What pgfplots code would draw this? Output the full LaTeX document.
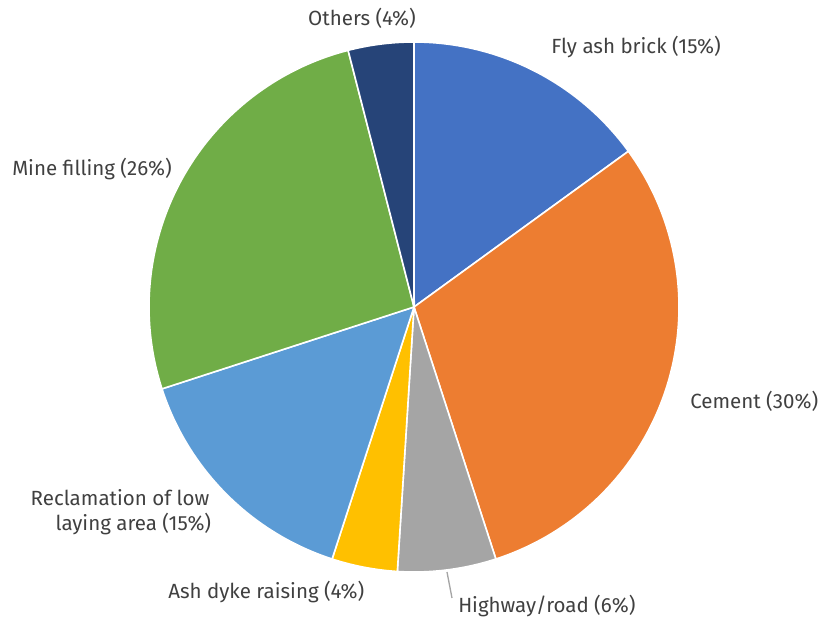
\documentclass[border=0pt]{standalone}
\usepackage{pgfplots}
\pgfplotsset{compat=1.18}
\usepackage{fontspec}
\setmainfont{Fira Sans}
\definecolor{c1}{HTML}{4472C4}
\definecolor{c2}{HTML}{ED7D31}
\definecolor{c3}{HTML}{A5A5A5}
\definecolor{c4}{HTML}{FFC000}
\definecolor{c5}{HTML}{5B9BD5}
\definecolor{c6}{HTML}{70AD47}
\definecolor{c7}{HTML}{264478}
\definecolor{txt}{HTML}{404040}
% shares (%)
\def\vA{15}\def\vB{30}\def\vC{6}\def\vD{4}\def\vE{15}\def\vF{26}\def\vG{4}
\pgfmathsetmacro\aA{90}
\pgfmathsetmacro\aB{\aA-3.6*\vA}
\pgfmathsetmacro\aC{\aB-3.6*\vB}
\pgfmathsetmacro\aD{\aC-3.6*\vC}
\pgfmathsetmacro\aE{\aD-3.6*\vD}
\pgfmathsetmacro\aF{\aE-3.6*\vE}
\pgfmathsetmacro\aG{\aF-3.6*\vF}
\pgfmathsetmacro\aH{\aG-3.6*\vG}
\def\cx{414}\def\cy{311}\def\R{265}
\tikzset{lbl/.style={font=\fontsize{15.4}{18.5}\selectfont,text=txt,inner sep=0pt}}
\begin{document}
\begin{tikzpicture}
\begin{axis}[x=0.75pt,y=0.75pt,xmin=0,xmax=819,ymin=0,ymax=618,
  axis lines=none,ticks=none,clip=false]
\addplot[draw=none] coordinates {(0,0) (819,618)};
\pgfplotsset{slice/.style={draw=white,line width=1.2pt,samples=80,variable=\t}}
\addplot[slice,fill=c1,domain=\aB:\aA] ({\cx+\R*cos(\t)},{\cy+\R*sin(\t)}) -- (axis cs:\cx,\cy) -- cycle;
\addplot[slice,fill=c2,domain=\aC:\aB] ({\cx+\R*cos(\t)},{\cy+\R*sin(\t)}) -- (axis cs:\cx,\cy) -- cycle;
\addplot[slice,fill=c3,domain=\aD:\aC] ({\cx+\R*cos(\t)},{\cy+\R*sin(\t)}) -- (axis cs:\cx,\cy) -- cycle;
\addplot[slice,fill=c4,domain=\aE:\aD] ({\cx+\R*cos(\t)},{\cy+\R*sin(\t)}) -- (axis cs:\cx,\cy) -- cycle;
\addplot[slice,fill=c5,domain=\aF:\aE] ({\cx+\R*cos(\t)},{\cy+\R*sin(\t)}) -- (axis cs:\cx,\cy) -- cycle;
\addplot[slice,fill=c6,domain=\aG:\aF] ({\cx+\R*cos(\t)},{\cy+\R*sin(\t)}) -- (axis cs:\cx,\cy) -- cycle;
\addplot[slice,fill=c7,domain=\aH:\aG] ({\cx+\R*cos(\t)},{\cy+\R*sin(\t)}) -- (axis cs:\cx,\cy) -- cycle;
\addplot[draw=c3,line width=1pt] coordinates {(447,46) (452,20)};
\node[lbl,anchor=center] at (axis cs:362,600) {Others (4\%)};
\node[lbl,anchor=west] at (axis cs:551,571) {Fly ash brick (15\%)};
\node[lbl,anchor=west] at (axis cs:690,217) {Cement (30\%)};
\node[lbl,anchor=west] at (axis cs:458,12) {Highway/road (6\%)};
\node[lbl,anchor=west] at (axis cs:168,26) {Ash dyke raising (4\%)};
\node[lbl,anchor=center,align=center] at (axis cs:120,106) {Reclamation of low\\\hspace*{1.3em}laying area (15\%)};
\node[lbl,anchor=west] at (axis cs:12,449) {Mine filling (26\%)};
\end{axis}
\end{tikzpicture}
\end{document}
